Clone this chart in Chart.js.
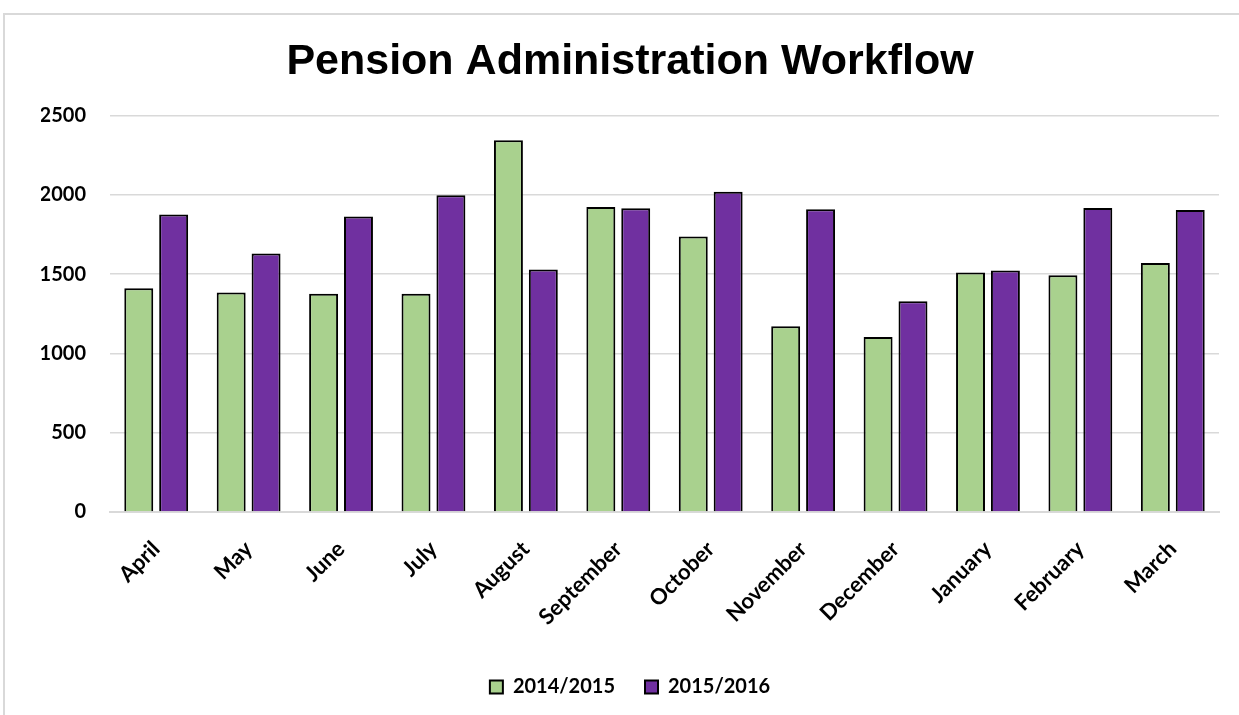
<!DOCTYPE html>
<html>
<head>
<meta charset="utf-8">
<script src="https://cdn.jsdelivr.net/npm/chart.js@4.4.1/dist/chart.umd.min.js"></script>
<style>
    html, body { margin: 0; padding: 0; background: #fff; overflow: hidden; }
    #frame {
        position: absolute; left: 3px; top: 13px; width: 1300px; height: 800px;
        border-left: 2px solid #d9d9d9; border-top: 2px solid #d9d9d9;
    }
    #chart { position: absolute; left: 0; top: 0; }
</style>
</head>
<body>
<div id="frame"></div>
<canvas id="chart" width="1239" height="715"></canvas>
<script>
// months of the fiscal year
const months = ['April', 'May', 'June', 'July', 'August', 'September',
    'October', 'November', 'December', 'January', 'February', 'March']

// values
const year1415 = [1411, 1384, 1376, 1376, 2345, 1923, 1737, 1172, 1104, 1510, 1493, 1571]
const year1516 = [1876, 1630, 1864, 1998, 1529, 1916, 2019, 1910, 1329, 1523, 1918, 1904]

const yTicks = [0, 500, 1000, 1500, 2000, 2500]

const tickFont = { family: 'Lato', weight: 'bold', size: 20 }
const monthFont = { family: 'Lato', weight: 'bold', size: 22 }

const data = {
    labels: months,
    datasets: [{
        label: '2014/2015',
        data: year1415,
        backgroundColor: '#a9d18e',
        borderColor: '#000000',
        borderWidth: 2,
        barPercentage: 0.83,
        categoryPercentage: 0.755
    }, {
        label: '2015/2016',
        data: year1516,
        backgroundColor: '#7030a0',
        borderColor: '#000000',
        borderWidth: 2,
        barPercentage: 0.83,
        categoryPercentage: 0.755
    }]
}

const config = {
    type: 'bar',
    data: data,
    options: {
        responsive: false,
        animation: false,
        layout: { padding: { left: 41, right: 20, top: 14, bottom: 8 } },
        plugins: {
            title: {
                display: true,
                text: 'Pension Administration Workflow',
                color: '#000',
                font: { family: 'Liberation Sans', weight: 'bold', size: 43 },
                padding: { top: 22, bottom: 28 }
            },
            legend: {
                position: 'bottom',
                labels: {
                    color: '#000',
                    font: tickFont,
                    boxWidth: 13,
                    boxHeight: 13,
                    padding: 30
                }
            },
            tooltip: { enabled: false }
        },
        scales: {
            x: {
                grid: { display: false, drawTicks: false },
                border: { color: '#d9d9d9', width: 2 },
                ticks: {
                    color: '#000',
                    font: monthFont,
                    minRotation: 45,
                    maxRotation: 45,
                    padding: 24
                },
                afterFit: function (scale) { scale.height = 135 }
            },
            y: {
                min: 0,
                max: 2500,
                grid: { color: '#d9d9d9', lineWidth: 1.5, drawTicks: false },
                border: { display: false },
                afterBuildTicks: function (scale) {
                    scale.ticks = yTicks.map(function (v) { return { value: v } })
                },
                ticks: {
                    color: '#000',
                    font: tickFont,
                    padding: 24,
                    callback: function (value) { return String(value) }
                },
                afterFit: function (scale) { scale.width = 69 }
            }
        }
    }
}

new Chart(document.getElementById('chart'), config)
</script>
</body>
</html>
